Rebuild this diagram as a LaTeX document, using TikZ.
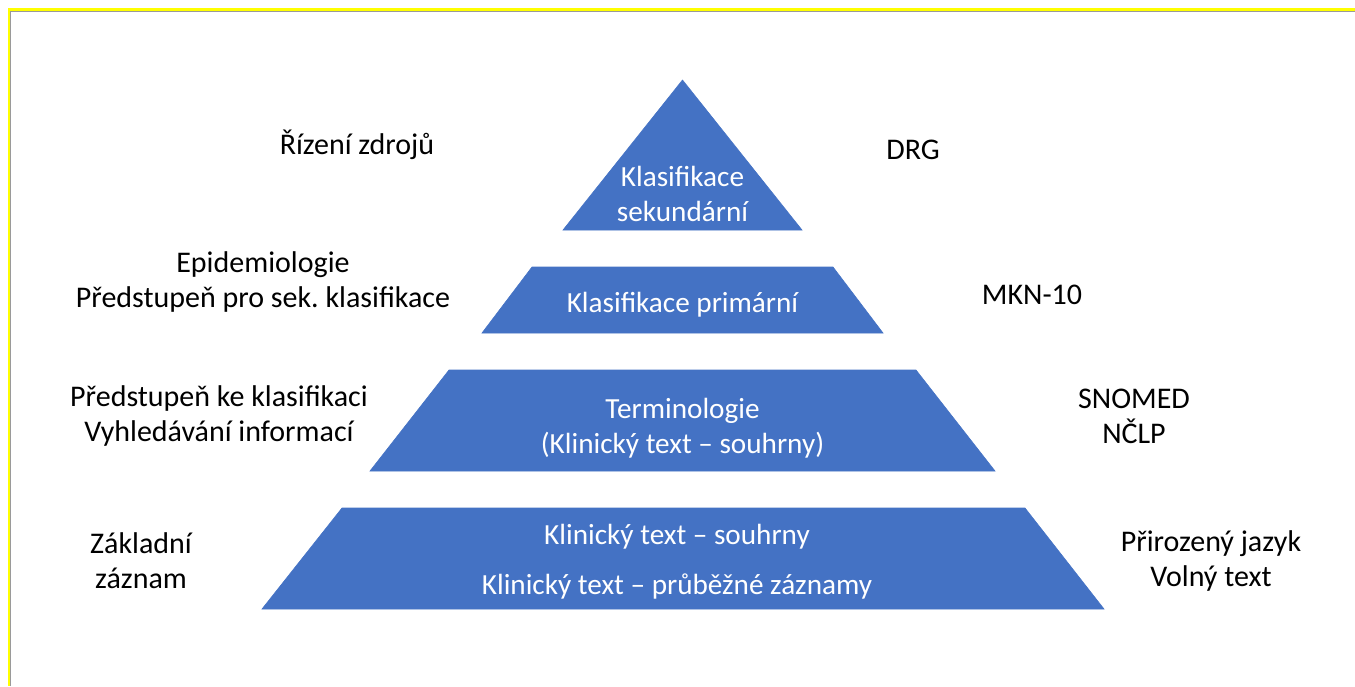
\documentclass[tikz,border=0pt]{standalone}
\usepackage{fontspec}
\setmainfont{Carlito}
\usetikzlibrary{calc}
\definecolor{levelblue}{HTML}{4472C4}
\definecolor{frameyellow}{HTML}{FFFF00}
\definecolor{framegray}{HTML}{9A9A9A}
\frenchspacing

\begin{document}
\begin{tikzpicture}[x=0.5pt, y=-0.5pt,
	level/.style={fill=levelblue, draw=levelblue, line width=0.3pt},
	inlabel/.style={text=white, align=center, font=\fontsize{14.6}{17.5}\selectfont},
	sidelabel/.style={text=black, align=center, font=\fontsize{15}{17.5}\selectfont}]
	\useasboundingbox (0,0) rectangle (1355,686);
	% frame
	\draw[frameyellow, line width=1.2pt] (9,686) -- (9,9.5) -- (1355,9.5);
	\draw[framegray, line width=0.5pt] (10.8,686) -- (10.8,11.3) -- (1355,11.3);
	% pyramid
	\coordinate (top) at (682.5,80);
	\path[level] (top) -- (802,230) -- (563,230) -- cycle;
	\path[level] (532,267) -- (833,267) -- (883,333) -- (482,333) -- cycle;
	\path[level] (449,370) -- (916,370) -- (995,471) -- (370,471) -- cycle;
	\path[level] (342,508) -- (1025,508) -- (1104,609) -- (262,609) -- cycle;
	\node[inlabel] (sek) at (682.5,194) {Klasifikace\\sekundární};
	\node[inlabel] (prim) at (682.5,305) {Klasifikace primární};
	\node[inlabel] (term) at (682.5,428) {Terminologie\\(Klinický text – souhrny)};
	\node[inlabel] (klin) at (677,562) {Klinický text – souhrny\\[7.5pt]Klinický text – průběžné záznamy};
	% left side
	\node[sidelabel] (rizeni) at (357,145) {Řízení zdrojů};
	\node[sidelabel] (epi) at (263,282) {Epidemiologie\\Předstupeň pro sek. klasifikace};
	\node[sidelabel] (predst) at (219,416) {Předstupeň ke klasifikaci\\Vyhledávání informací};
	\node[sidelabel] (zakl) at (141,561) {Základní\\záznam};
	% right side
	\node[sidelabel] (drg) at (913,150) {DRG};
	\node[sidelabel] (mkn) at (1032,295) {MKN-10};
	\node[sidelabel] (snomed) at (1134,416) {SNOMED\\NČLP};
	\node[sidelabel] (priroz) at (1211,561) {Přirozený jazyk\\Volný text};
\end{tikzpicture}
\end{document}
